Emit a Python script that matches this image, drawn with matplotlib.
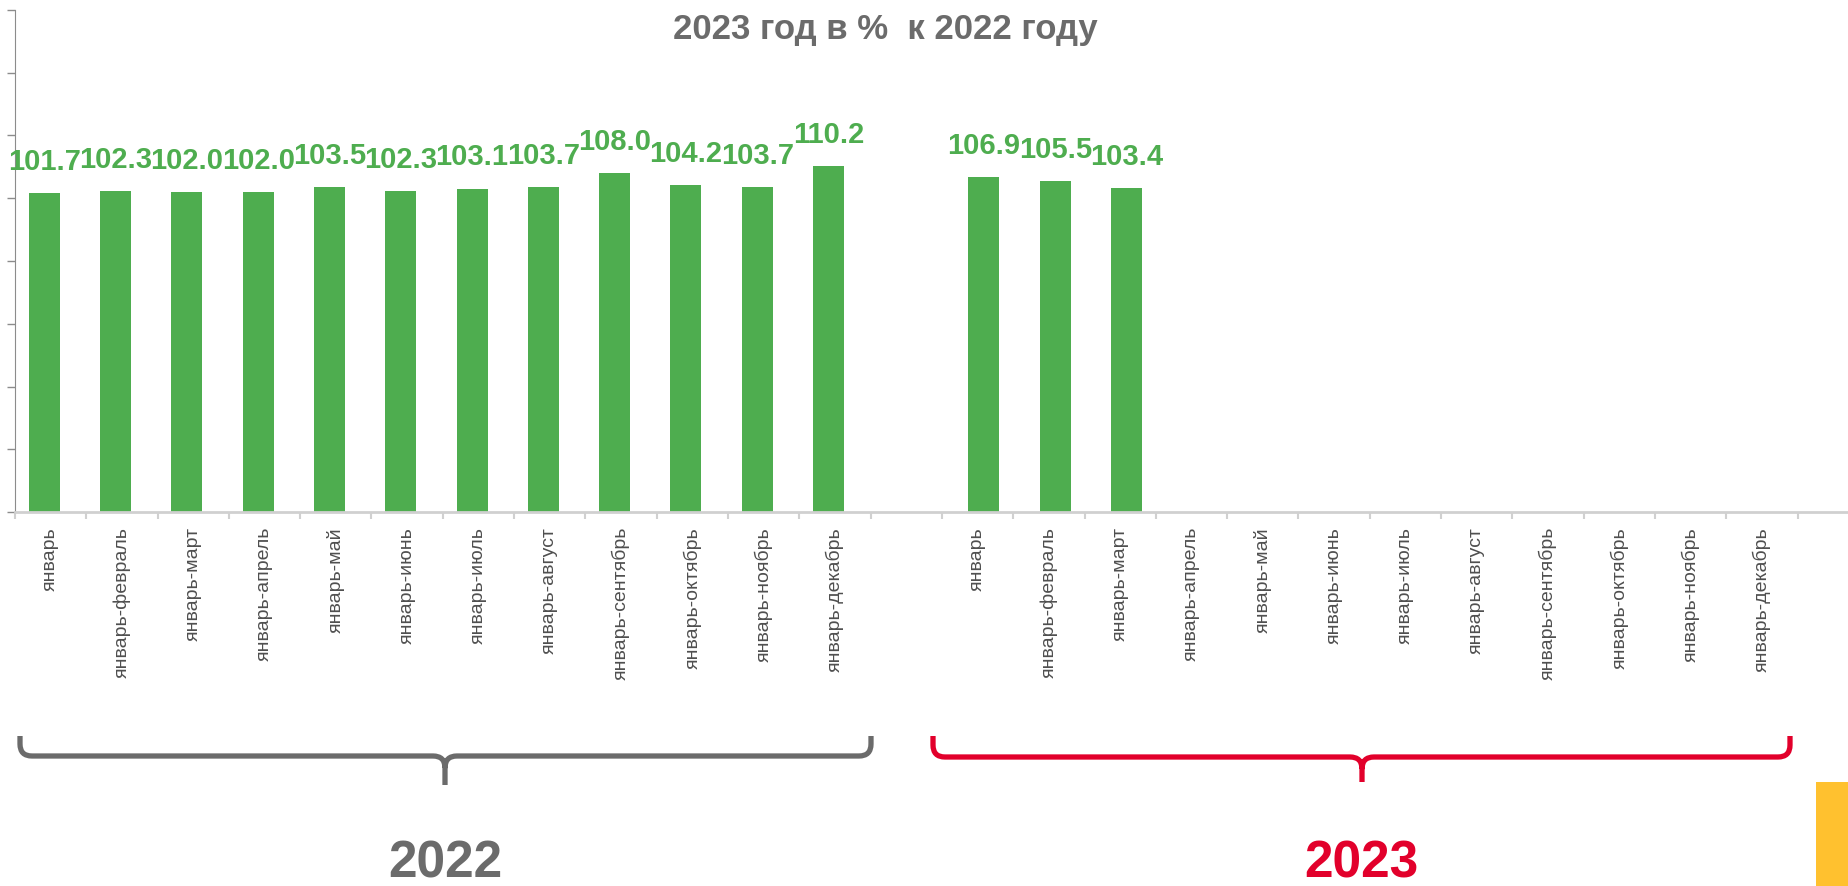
import numpy as np
import matplotlib
matplotlib.use("Agg")
import matplotlib.pyplot as plt
from matplotlib.path import Path
from matplotlib.patches import PathPatch, Rectangle

plt.rcParams['font.family'] = ['Liberation Sans', 'DejaVu Sans']

TITLE = "2023 год в %  к 2022 году"
months = ["январь", "январь-февраль", "январь-март", "январь-апрель", "январь-май",
          "январь-июнь", "январь-июль", "январь-август", "январь-сентябрь",
          "январь-октябрь", "январь-ноябрь", "январь-декабрь"]
values_2022 = [101.7, 102.3, 102.0, 102.0, 103.5, 102.3, 103.1, 103.7, 108.0, 104.2, 103.7, 110.2]
values_2023 = [106.9, 105.5, 103.4]
years = ["2022", "2023"]

GREEN = "#4EAD4F"
RED = "#E2002B"
GRAY = "#6B6B6B"
W, H = 1848, 887


def px(x, y):
    # pixel coords (top-left origin) -> figure fraction
    return x / W, 1 - y / H


def brace(fig, x0, x1, xm, ytop, yline, ytip, color, r=12):
    pts = [px(x0, ytop), px(x0, yline - r), px(x0, yline), px(x0 + r, yline),
           px(xm - r, yline), px(xm, yline), px(xm, yline + r), px(xm, ytip),
           px(xm, yline + r), px(xm, yline), px(xm + r, yline),
           px(x1 - r, yline), px(x1, yline), px(x1, yline - r), px(x1, ytop)]
    codes = [Path.MOVETO, Path.LINETO, Path.CURVE3, Path.CURVE3,
             Path.LINETO, Path.CURVE3, Path.CURVE3, Path.LINETO,
             Path.MOVETO, Path.CURVE3, Path.CURVE3,
             Path.LINETO, Path.CURVE3, Path.CURVE3, Path.LINETO]
    patch = PathPatch(Path(pts, codes), facecolor="none", edgecolor=color, lw=3.8,
                      transform=fig.transFigure, capstyle="butt", joinstyle="round")
    fig.patches.append(patch)


fig = plt.figure(figsize=(W / 100, H / 100), dpi=100)
ax = fig.add_axes([15 / W, (H - 513) / H, 1 - 15 / W, 502 / H])

n = len(months)
x22 = np.arange(n)
x23 = np.arange(len(values_2023)) + n + 1
ax.bar(x22 - 0.09, values_2022, width=0.435, color=GREEN)
ax.bar(x23 + 0.09, values_2023, width=0.435, color=GREEN)

for xs, vals, off in ((x22, values_2022, -0.09), (x23, values_2023, 0.09)):
    for x, v in zip(xs, vals):
        ax.annotate("%.1f" % v, (x + off, v), xytext=(0, 13), textcoords="offset points",
                    ha="center", va="bottom", fontsize=21, fontweight="bold", color=GREEN)

ax.set_ylim(0, 160)
ax.set_yticks(np.arange(0, 161, 20))
ax.set_yticklabels([])
ax.tick_params(axis="y", length=6, width=1, color="#8C8C8C", direction="out")

cats = months + [""] + months
ax.set_xlim(-0.5, -0.5 + 1833 / 71.3)
ax.set_xticks(np.arange(len(cats)))
ax.set_xticklabels(cats, rotation=90, fontsize=14, color="#4F4F4F", va="top")
ax.set_xticks(np.arange(len(cats) + 1) - 0.5, minor=True)
ax.tick_params(axis="x", which="major", length=0, pad=10)
ax.tick_params(axis="x", which="minor", length=5, width=1.5, color="#D0D0D0")

for s in ("top", "right"):
    ax.spines[s].set_visible(False)
ax.spines["left"].set_color("#8C8C8C")
ax.spines["bottom"].set_color("#D0D0D0")
ax.spines["bottom"].set_linewidth(2)

fig.text(*px(885, 30), TITLE, ha="center", va="center", fontsize=25,
         fontweight="bold", color=GRAY)

brace(fig, 20, 871, 445, 737, 757, 786, GRAY)
brace(fig, 933, 1790, 1362, 737, 758, 783, RED)
fig.text(*px(445, 878), years[0], ha="center", va="baseline", fontsize=37,
         fontweight="bold", color=GRAY)
fig.text(*px(1361, 878), years[1], ha="center", va="baseline", fontsize=37,
         fontweight="bold", color=RED)

x0, y0 = px(1816, 887)
fig.patches.append(Rectangle((x0, y0), 32 / W, 104 / H, transform=fig.transFigure,
                             facecolor="#FFC12F", edgecolor="none"))

fig.savefig("out.png", dpi=100)
